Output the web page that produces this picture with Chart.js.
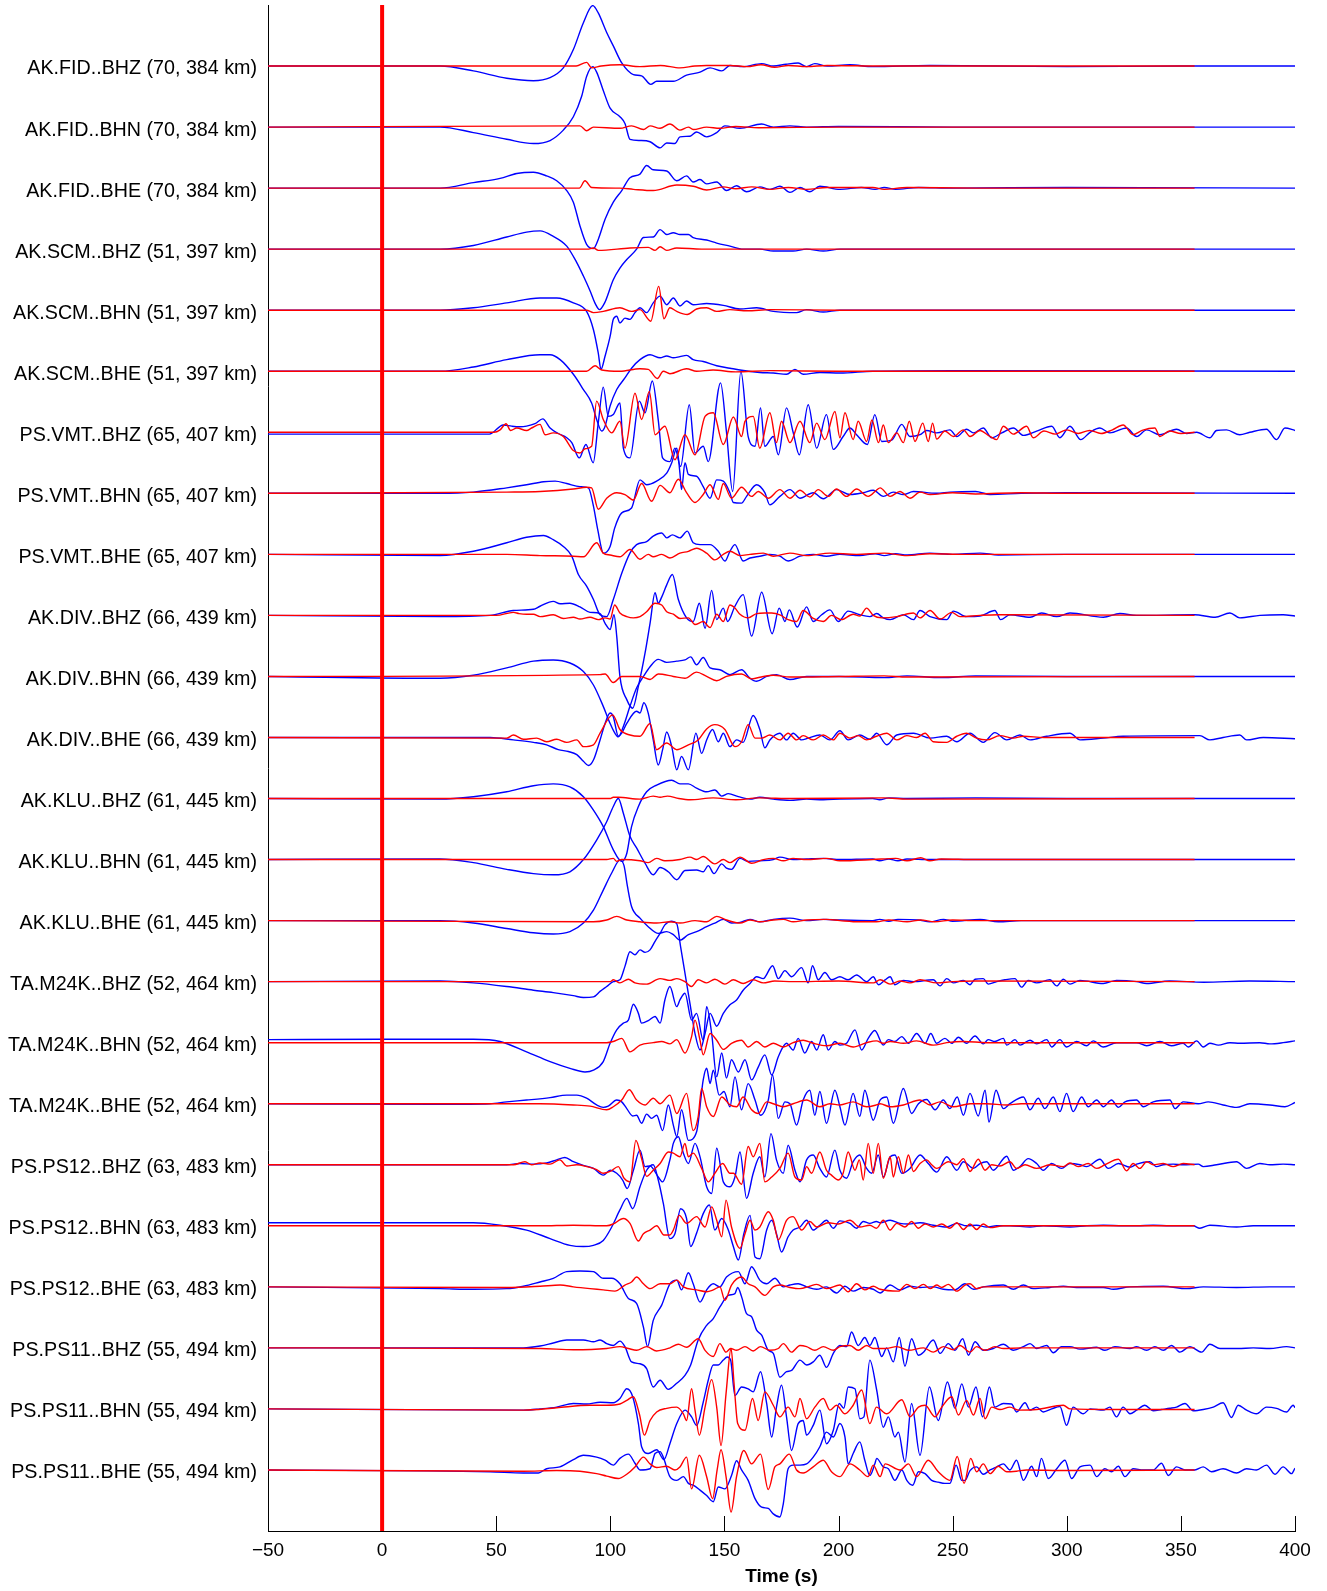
<!DOCTYPE html>
<html>
<head>
<meta charset="utf-8">
<title>Waveform fits</title>
<script src="https://cdn.jsdelivr.net/npm/chart.js@4.4.1/dist/chart.umd.min.js"></script>
<style>
    html, body { margin: 0; padding: 0; background: #fff; }
    #chart-canvas { display: block; }
</style>
</head>
<body>
<canvas id="chart-canvas" width="1327" height="1591"></canvas>
<script>
// Station / channel labels, top to bottom
const stationLabels = [
    'AK.FID..BHZ (70, 384 km)', 'AK.FID..BHN (70, 384 km)', 'AK.FID..BHE (70, 384 km)',
    'AK.SCM..BHZ (51, 397 km)', 'AK.SCM..BHN (51, 397 km)', 'AK.SCM..BHE (51, 397 km)',
    'PS.VMT..BHZ (65, 407 km)', 'PS.VMT..BHN (65, 407 km)', 'PS.VMT..BHE (65, 407 km)',
    'AK.DIV..BHZ (66, 439 km)', 'AK.DIV..BHN (66, 439 km)', 'AK.DIV..BHE (66, 439 km)',
    'AK.KLU..BHZ (61, 445 km)', 'AK.KLU..BHN (61, 445 km)', 'AK.KLU..BHE (61, 445 km)',
    'TA.M24K..BHZ (52, 464 km)', 'TA.M24K..BHN (52, 464 km)', 'TA.M24K..BHE (52, 464 km)',
    'PS.PS12..BHZ (63, 483 km)', 'PS.PS12..BHN (63, 483 km)', 'PS.PS12..BHE (63, 483 km)',
    'PS.PS11..BHZ (55, 494 km)', 'PS.PS11..BHN (55, 494 km)', 'PS.PS11..BHE (55, 494 km)'
];

const timeTicks = [-50, 0, 50, 100, 150, 200, 250, 300, 350, 400];
const originTime = 0;

// [time (s), normalized amplitude] -- Obs = recorded (blue), Syn = synthetic (red)
const fidBhzObs = [[-50,0],[25.4,0],[40,-0.08],[54.6,-0.2],[66.3,-0.24],[73.6,-0.19],[79.4,-0.03],[83.8,0.27],[88.2,0.71],[92.3,0.99],[94.7,0.87],[98.4,0.55],[101.3,0.33],[105,0.05],[110.1,-0.14],[113.7,-0.16],[117.7,-0.3],[120.3,-0.25],[127.6,-0.25],[133.4,-0.15],[139.3,-0.1],[143.7,-0.03],[148.8,-0.08],[152.4,0.01],[158,-0.01],[166.3,0.04],[171.4,0],[177,0.03],[182.3,0.05],[186,-0.01],[189.6,0.04],[195,0],[205,0.02],[215,-0.01],[240,0.01],[300,-0.01],[350,0],[400,0]];
const fidBhzSyn = [[-50,0],[85,0],[89.6,0.06],[91.8,-0.03],[96,0],[104.2,0.02],[113,-0.01],[122,0.01],[130.5,-0.03],[137,0],[142.2,0.01],[152.4,0.01],[160,-0.01],[166,0.02],[172,-0.02],[178,0.01],[186,-0.01],[195,0.01],[220,0],[356,0]];

const fidBhnObs = [[-50,0],[25.4,0],[40,-0.09],[54.6,-0.2],[66.3,-0.27],[73.6,-0.22],[79.4,-0.05],[83.8,0.17],[87.4,0.5],[89.6,0.83],[92.3,0.99],[94,0.9],[96.9,0.6],[99.9,0.31],[104.2,0.17],[106.4,0.06],[108.6,-0.2],[113,-0.22],[117.4,-0.24],[121.8,-0.34],[124.7,-0.26],[128.3,-0.27],[130.5,-0.16],[134.9,-0.15],[137.8,-0.08],[142.2,-0.16],[146.6,-0.09],[150.2,0.02],[156.8,-0.02],[166.3,0.05],[171.4,0],[178.7,0.02],[186,0],[200,0.01],[250,0],[400,0]];
const fidBhnSyn = [[-50,0],[86.7,0.02],[89.6,-0.06],[92.6,0],[104.2,-0.02],[109.3,0.02],[114.5,-0.04],[117.4,0.02],[121.8,-0.02],[126.1,0.05],[130.5,-0.05],[134.2,0],[136.3,-0.04],[142.2,0],[148,-0.02],[155,0.01],[165,-0.01],[200,0],[356,0]];

const fidBheObs = [[-50,0],[25.4,0],[40,0.09],[51.7,0.16],[59,0.24],[66.3,0.26],[72.1,0.2],[76.5,0.12],[80.9,-0.04],[83.8,-0.23],[86.7,-0.62],[89.6,-0.92],[92.6,-0.99],[94.7,-0.84],[97.7,-0.51],[101.3,-0.23],[105,-0.04],[108.6,0.17],[113,0.23],[115.9,0.37],[118.8,0.3],[124.7,0.28],[129.1,0.12],[133.4,0.2],[136.3,0.1],[139.3,0.14],[142.2,0.07],[146.6,0.1],[150.9,-0.04],[155.3,0.04],[159.7,-0.06],[165.5,0.02],[169.9,-0.02],[174.3,0.03],[178.7,-0.07],[183.1,0.01],[187.4,-0.06],[191.8,0.03],[200.6,-0.02],[210,0.01],[216,-0.02],[220,0.01],[225,-0.02],[235,0.01],[250,0],[300,0.01],[400,0]];
const fidBheSyn = [[-50,0],[86.4,0],[88.9,0.12],[91.8,0.01],[104.2,0],[110.1,-0.02],[118.8,-0.04],[129.1,0.05],[136.3,0.03],[142.2,-0.03],[149.5,0.02],[155,-0.01],[162,0.02],[170,-0.02],[178,0.01],[186,-0.02],[195,0.01],[215,0.01],[220,-0.02],[230,0.01],[260,0],[356,0]];

const scmBhzObs = [[-50,0],[25.4,0],[40,0.06],[54.6,0.2],[63.3,0.28],[69.2,0.3],[75,0.21],[80.9,0.05],[85.3,-0.22],[88.2,-0.44],[91.1,-0.68],[93.5,-0.9],[95.2,-0.99],[97.5,-0.88],[101.3,-0.5],[104.2,-0.31],[107.2,-0.17],[111.5,0],[114.5,0.19],[118.8,0.2],[121.8,0.32],[124.7,0.24],[127.6,0.27],[130.5,0.24],[134.2,0.24],[136.3,0.19],[142.2,0.15],[146.6,0.1],[152.4,0.05],[158.2,0],[165.5,0],[171.4,-0.03],[180.1,-0.03],[186,0],[193.3,-0.03],[200.6,0],[250,0],[400,0]];
const scmBhzSyn = [[-50,0],[90,0],[92.6,0.02],[94.7,-0.02],[108.6,0.02],[116.6,0.03],[119.6,-0.02],[121.8,0.04],[124.7,-0.02],[129.1,0.02],[140,0],[356,0]];

const scmBhnObs = [[-50,0],[25.4,0],[40,0.04],[54.6,0.12],[69.2,0.2],[76.5,0.2],[83.8,0.12],[89.6,-0.02],[92.6,-0.32],[94.7,-0.7],[95.9,-0.97],[97.7,-0.75],[99.9,-0.43],[101.3,-0.15],[102.8,-0.1],[104.2,-0.21],[106.4,-0.13],[108.6,-0.15],[110.8,-0.04],[113,0.04],[115.9,-0.04],[118.8,0.12],[121.8,0.23],[124.7,0.09],[127.6,0.2],[130.5,0.07],[133.4,0.15],[136.3,0.09],[142.2,0.11],[149.5,0.08],[156.8,0.02],[164.1,0.04],[171.4,-0.02],[181.6,-0.04],[186,0.01],[193.3,-0.03],[200.6,0],[250,0],[400,0]];
const scmBhnSyn = [[-50,0],[89.6,0],[92.6,-0.04],[96.9,-0.02],[104.2,0.04],[109.3,-0.02],[113,0.01],[117.7,-0.18],[121.2,0.39],[123.5,-0.14],[126.1,0.04],[129.1,-0.02],[133.7,-0.07],[137.8,0.02],[142.2,0.04],[146.6,-0.02],[152.4,0.01],[160,-0.01],[170,0.01],[200,0],[356,0]];

const scmBheObs = [[-50,0],[25.4,0],[40,0.07],[54.6,0.19],[69.2,0.27],[73.6,0.27],[78,0.19],[83.8,-0.05],[88.2,-0.3],[91.8,-0.52],[94,-0.79],[96.2,-0.98],[97.7,-0.9],[99.9,-0.57],[102.8,-0.3],[106.4,-0.11],[109.3,0.05],[113,0.19],[117.4,0.27],[121.8,0.22],[124.7,0.25],[127.6,0.22],[130.5,0.24],[133.4,0.26],[136.3,0.19],[140.7,0.16],[146.6,0.09],[152.4,0.05],[156.8,0.02],[165.5,-0.02],[171.4,-0.03],[177.2,-0.05],[180.9,0.03],[184.5,-0.05],[191.8,-0.02],[200.6,-0.03],[215,0],[250,0.01],[400,0]];
const scmBheSyn = [[-50,0],[89.6,0],[93.3,0.09],[96.2,0.02],[104.2,0],[113,0.04],[116.6,0.03],[120.6,-0.12],[123.2,0],[126.1,-0.04],[133.4,0.04],[137.8,0],[145,0.02],[155,-0.01],[170,0.01],[200,0],[356,0]];

const vmtBhzObs = [[-50,-0.03],[47,-0.03],[53.1,0.12],[56.8,0.1],[60.4,0.09],[63.3,0.1],[67,0.14],[70.4,0.22],[73.6,0.07],[77.2,-0.02],[80.9,-0.09],[83.1,-0.17],[86.4,-0.42],[89.3,-0.2],[92.5,-0.5],[94.7,0.15],[96.9,0.74],[99.1,0.26],[101.3,0.29],[104.2,0.48],[105.7,-0.26],[108.6,-0.42],[112.7,0.51],[115.2,0.32],[118.4,0.84],[121,0.2],[122.9,-0.42],[126.1,-0.48],[128.3,-0.26],[130.8,-0.56],[134.6,0.45],[137.1,-0.34],[140.7,-0.23],[142.9,-0.48],[148.3,0.81],[150.9,0],[153.6,-0.97],[157.2,1.0],[160.4,-0.07],[163.4,-0.23],[165.8,0.4],[167.7,-0.23],[171.4,-0.07],[173.6,-0.37],[177.2,0.4],[180.1,0],[182.8,-0.37],[186.7,0.45],[190.4,-0.26],[194.7,0.29],[197.7,-0.28],[202,-0.07],[205,0.07],[207.9,-0.04],[212.6,-0.2],[215.9,0.29],[218.9,-0.15],[223.3,-0.13],[227.7,0.13],[231.3,-0.07],[235.7,-0.04],[238.6,0.03],[243,-0.01],[248.8,0.04],[251.8,-0.07],[256.1,0.05],[259.1,-0.01],[263.4,0.07],[267.1,-0.09],[271.5,-0.01],[276.6,0.07],[281,-0.05],[286.8,0.02],[293.4,0.1],[297,-0.09],[301.4,0.1],[306.1,-0.12],[310.2,0],[314.5,0.07],[318.9,-0.01],[326.2,0.07],[330.6,-0.07],[335,0.04],[340.8,-0.04],[348.1,0.05],[352.5,-0.02],[356.9,0],[362.7,-0.09],[365.6,0.03],[370,0.04],[375.8,-0.04],[380.2,0],[387.5,0.05],[391.9,-0.12],[395.6,0.07],[400,0.03]];
const vmtBhzSyn = [[-50,0],[49,0],[51.7,0.04],[54.3,0.14],[56.3,0.03],[59,0.07],[63.3,0.03],[65.5,0.07],[69.2,0.13],[71.4,-0.04],[75,-0.01],[79.4,-0.07],[83.8,-0.3],[86.7,-0.34],[88.9,-0.27],[91.8,-0.23],[94,0.51],[96.9,0.21],[100.6,-0.01],[104.2,0.18],[106.4,-0.26],[110.8,0.64],[113.7,0.21],[117.1,0.67],[119.6,-0.04],[123.9,0.1],[128.3,-0.45],[132.7,-0.04],[137.1,-0.37],[141.5,0.26],[145.1,0.32],[149.5,-0.2],[153.9,0.25],[157.5,-0.07],[159,0.18],[162.6,0.26],[165.5,-0.26],[169.9,0.32],[172.8,-0.17],[175,0.18],[178.7,-0.17],[183.1,0.18],[187.4,-0.17],[190.4,0.15],[194,-0.12],[198.4,0.34],[200.6,-0.09],[202.8,0.32],[206.4,-0.12],[208.6,0.18],[212.3,-0.15],[214.6,0.2],[217.5,-0.17],[219.6,0.12],[221.8,-0.17],[225.5,-0.01],[228.4,-0.17],[231,0.18],[233.5,-0.15],[236.9,0.15],[239.3,-0.15],[241.2,0.15],[243,-0.11],[246.6,0.02],[250.3,-0.07],[254.7,0.04],[257.6,-0.07],[262,0.03],[265.6,-0.05],[269.3,-0.12],[272.2,0.1],[276.6,-0.03],[282.4,0.1],[285.3,-0.09],[290,0.02],[295,-0.03],[300,0.04],[305,-0.02],[310,0.03],[315,-0.02],[320,0.04],[324.7,0.12],[329.1,-0.04],[333,0.03],[338.6,0.07],[340.8,-0.07],[345,0.02],[350,-0.02],[356,0]];

const vmtBhnObs = [[-50,0],[25.4,0],[40,0.02],[54.6,0.09],[63.3,0.14],[70.7,0.19],[75.8,0.2],[80.9,0.16],[86.7,0.11],[90.4,0.09],[92.6,-0.21],[94.5,-0.6],[97,-0.98],[99.9,-0.87],[101.9,-0.57],[105,-0.32],[109.3,-0.24],[113,0.22],[115.9,0.14],[120.3,0.2],[124.7,0.33],[126.9,0.5],[129.1,0.74],[130.5,0.33],[131.2,0.06],[132.7,0.5],[134.2,0.31],[137.8,0.28],[140.7,0.11],[143.7,-0.08],[146.6,0.22],[149.5,0.2],[152.4,0.01],[153.9,-0.15],[157.5,-0.16],[159.7,-0.05],[164.1,0.14],[167.7,0.01],[169.9,-0.19],[174.3,-0.05],[178.7,0.06],[183.1,-0.08],[188.9,0.01],[193.3,-0.09],[199.1,0.06],[205,-0.02],[210.8,0.01],[215.2,0.05],[219.6,-0.05],[224,0.02],[228.4,-0.02],[232.8,0.03],[243,0],[248.8,0.02],[260,0.03],[266.4,-0.02],[280,0],[300,0.01],[400,0]];
const vmtBhnSyn = [[-50,0],[54.6,0.02],[69.2,0.03],[83.8,0.07],[89.6,0.1],[91.8,0.09],[94.7,-0.26],[98.4,-0.08],[102.8,0.01],[106.4,-0.02],[110.1,-0.11],[113.7,0.16],[118.1,-0.13],[121.8,0.13],[126.1,0.01],[129.8,0.23],[133.4,0.01],[137.1,-0.15],[140.7,-0.02],[143.7,0.14],[147.3,-0.1],[149.5,0.16],[153.1,-0.08],[157.5,0.1],[161.9,-0.05],[164.8,0.03],[169.2,-0.08],[174.3,0.06],[178.7,-0.08],[183.1,0.05],[187.4,-0.06],[191.1,0.06],[195.5,-0.05],[199.1,0.07],[203.5,-0.05],[207.9,0.07],[213,-0.05],[216.6,0.05],[218.2,0.09],[222.6,-0.05],[226.9,0.03],[231.3,-0.08],[235.7,0.02],[240.1,-0.02],[250,0.01],[260,-0.01],[280,0.01],[300,0],[356,0]];

const vmtBheObs = [[-50,0],[25.4,-0.02],[40,0.05],[54.6,0.19],[63.3,0.28],[70.7,0.31],[75,0.24],[79.4,0.13],[83.1,-0.03],[86,-0.33],[89.6,-0.52],[92.6,-0.74],[95.5,-0.99],[98.4,-1.02],[101.3,-0.74],[105,-0.31],[108.6,0.02],[111.5,0.16],[115.9,0.21],[118.8,0.3],[122.5,0.35],[124.7,0.27],[127.2,0.32],[130.5,0.27],[133.7,0.38],[136.3,0.19],[139.3,0.16],[143.7,0.16],[147.3,0.05],[150.2,-0.11],[152.4,0.05],[154.6,0.16],[158.2,-0.11],[161.2,-0.06],[165.5,-0.03],[169.9,0],[174.3,-0.03],[177.9,-0.11],[183.1,-0.03],[188.9,0],[194.7,-0.03],[200.6,0],[209.3,-0.02],[216,0.01],[220,-0.02],[225,0.01],[230,-0.01],[240,0.02],[250,0],[262,0.02],[270,-0.01],[300,0],[400,0]];
const vmtBheSyn = [[-50,0],[54.6,0],[69.2,-0.02],[83.8,-0.03],[88.2,-0.04],[94,0.19],[96.9,0.02],[99.9,-0.01],[104.2,-0.04],[108.6,0.08],[113,-0.08],[116.6,0],[118.8,-0.04],[122.5,0],[126.1,-0.06],[130.5,0.02],[134.2,0.05],[137.8,0.1],[142.2,0.02],[145.8,-0.09],[149.5,0],[152.4,0.05],[156.8,-0.02],[161.2,0],[167,0.02],[171.4,-0.03],[178.7,0.02],[186,-0.02],[196.2,0.02],[207.9,0],[220,0.02],[230,-0.02],[240,0.01],[255,0],[356,0]];

const divBhzObs = [[-50,0],[25.4,-0.02],[47.3,0],[57.5,0.08],[66.3,0.1],[69.2,0.15],[75,0.23],[78,0.19],[82.3,0.2],[86.7,0.14],[91.1,0.05],[95.5,0.03],[97.7,-0.13],[99.9,-0.23],[101.6,0.01],[102.8,-0.34],[104.2,-1.0],[107.2,-1.38],[109.8,-1.52],[112.3,-1.16],[115.2,-0.62],[117.4,-0.13],[119.6,0.37],[121,0.2],[122.5,0.3],[124.7,0.5],[127.2,0.67],[129.8,0.26],[133.4,-0.04],[136.3,-0.1],[139,0.2],[141.5,-0.21],[144.4,0.41],[146.6,-0.07],[149.5,0.12],[151.4,-0.1],[154.6,0.15],[158.2,0.34],[161.9,-0.34],[166.3,0.38],[170.9,-0.3],[174,0.12],[176.5,-0.1],[178.4,0.09],[181.9,-0.19],[186,0.14],[188.9,-0.1],[192.6,0.01],[196.2,0.09],[199.9,-0.1],[204.2,0.07],[209.3,0.01],[213.7,-0.02],[216.7,0.03],[219.6,-0.04],[222.6,-0.07],[228.4,0.01],[232.8,-0.07],[235.7,0.08],[240.1,-0.02],[247.4,-0.07],[250.3,0.07],[256.1,-0.02],[262,-0.01],[268.5,0.08],[271,-0.07],[275.1,0.01],[283.9,-0.03],[289,0.04],[295.6,-0.02],[301.4,0.04],[316,-0.03],[323.3,0.03],[330.6,0],[356,0.01],[365,-0.03],[371.5,0.04],[375.8,-0.04],[384.6,0],[394.8,0.01],[400,-0.01]];
const divBhzSyn = [[-50,0],[50,0],[57.5,0.05],[60,0.03],[63.3,0.02],[66.3,0.02],[69.2,-0.02],[75,0.01],[79.4,-0.05],[83.8,-0.03],[86.7,-0.06],[91.1,-0.03],[94.7,-0.07],[97.7,-0.04],[99.9,-0.06],[101.9,0.17],[104.2,0.04],[107.2,-0.02],[110.1,-0.04],[113,-0.02],[115.9,0.06],[119.6,0.2],[122.5,0.17],[124.7,0.06],[127.6,0.02],[130.5,-0.05],[134.2,-0.04],[137.1,-0.15],[140.7,-0.1],[143.7,-0.2],[146.6,0.02],[149.5,-0.1],[152.4,0.17],[154.6,0.12],[156.8,0.02],[160.4,-0.04],[164.1,0.03],[167.7,0.04],[170.7,0.04],[174.3,0.01],[177.9,-0.07],[181.6,-0.1],[184.5,0.08],[188.9,-0.05],[193.3,-0.1],[196.9,0],[201.3,-0.07],[206.4,0.02],[209.3,-0.01],[212.3,0.12],[215.2,0],[219,-0.04],[225.5,-0.02],[232.8,0.04],[235.7,-0.04],[240.1,0.08],[244.5,-0.06],[249.6,0.05],[253.2,-0.02],[262,0],[270,0.01],[356,0]];

const divBhnObs = [[-50,0],[25.4,-0.03],[40,0.02],[54.6,0.14],[66.3,0.25],[75,0.27],[82.3,0.22],[88.2,0.08],[92.6,-0.14],[96.9,-0.49],[99.9,-0.77],[102,-0.93],[103.5,-0.99],[105.7,-0.82],[108.6,-0.49],[111.5,-0.19],[114.5,0],[117.4,0.16],[121,0.28],[124.7,0.23],[129.1,0.25],[132.7,0.27],[135.2,0.32],[137.8,0.19],[140.7,0.31],[143.7,0.14],[148,0.11],[152.4,0.03],[157.5,0.11],[161.2,-0.03],[164.1,-0.08],[168.5,0],[172.8,0.03],[178.7,-0.05],[186,0],[200.6,0],[220,-0.02],[230,0.01],[245,-0.02],[260,0.01],[300,0],[400,0]];
const divBhnSyn = [[-50,0],[95.5,0.03],[97.7,0.04],[101.3,-0.1],[105,0],[113,0],[117.4,-0.05],[121,0.04],[127.6,0],[132.7,-0.03],[137.8,0.07],[142.2,0],[146.6,-0.07],[150.9,0],[157.5,0.04],[161.9,-0.04],[167,0],[171.4,0.02],[178.7,-0.01],[200,0],[220,0.01],[230,-0.01],[356,0]];

const divBheObs = [[-50,0],[25.4,0],[47.3,0],[57.5,-0.04],[66.3,-0.08],[72.1,-0.12],[77.2,-0.2],[81.6,-0.23],[85.3,-0.28],[88.2,-0.39],[90.4,-0.46],[92.6,-0.37],[95.5,-0.04],[97.7,0.23],[99.9,0.4],[101.3,0.34],[103.5,0.02],[105,0.07],[107.2,0.23],[111.5,0.43],[113,0.4],[114.7,0.57],[116.6,0.4],[118.8,-0.04],[121,-0.45],[122.9,-0.2],[124.7,0.09],[126.9,-0.15],[129.1,-0.53],[131.2,-0.31],[134.2,-0.53],[137.5,0.07],[140,-0.26],[142.2,-0.04],[144.8,0.13],[147.3,-0.07],[149.5,0.07],[152.4,-0.15],[155.3,-0.04],[158.2,-0.08],[162.6,0.36],[165.5,0.13],[167.7,-0.17],[169.9,-0.04],[174.3,0.07],[177.2,-0.04],[180.1,0.07],[183.8,-0.04],[186.7,-0.01],[191.8,0.04],[196.2,-0.04],[200.6,0.11],[204.2,-0.04],[209.3,0.04],[213.7,-0.03],[216.7,0.07],[221.1,-0.12],[225.5,0.04],[232.8,0.07],[240.1,-0.01],[247.4,0.02],[251.8,-0.07],[257.6,0.07],[263.4,-0.08],[268.5,0.08],[273.7,-0.04],[279.5,0.04],[283.9,-0.04],[291.2,0.02],[301.4,0.07],[305.8,-0.04],[316,-0.01],[324.7,0.02],[358.3,0.03],[362.7,-0.04],[368.5,0],[375.8,0.04],[378.8,-0.04],[386.1,0],[400,-0.02]];
const divBheSyn = [[-50,0],[54.6,-0.01],[57.5,0.04],[61.9,-0.03],[67.7,-0.01],[72.1,-0.07],[76.5,-0.03],[80.9,-0.08],[85.3,-0.04],[88.2,-0.15],[92.6,-0.12],[95.5,0.07],[101,0.37],[104.2,0.13],[108.6,0.04],[113,0.02],[117.4,0.23],[120.3,-0.2],[124.7,-0.09],[129.1,-0.2],[134.2,-0.12],[138.5,-0.04],[142.2,0.14],[145.8,0.21],[150.2,0.13],[154.6,-0.15],[157.5,-0.07],[160.4,0.21],[163.4,-0.01],[166.3,-0.01],[169.9,0.04],[174.3,-0.04],[177.9,0.07],[181.6,-0.04],[184.5,0.03],[188.9,-0.04],[193.3,0.04],[197.7,-0.04],[200.6,0.07],[205,-0.01],[208.6,0.03],[212.3,-0.04],[216.6,0.02],[221.1,0.07],[225.5,-0.04],[229.9,0.03],[234.2,0],[237.9,0.07],[241.5,-0.07],[247.4,-0.08],[251.8,0.02],[256.1,0.07],[260.5,-0.01],[264.9,-0.04],[270.7,0.03],[276.6,-0.01],[281,0.02],[290,0],[356,0]];

const kluBhzObs = [[-50,0],[25.4,-0.01],[40,0.03],[54.6,0.11],[66.3,0.21],[75,0.24],[82.3,0.19],[88.2,0.03],[92.6,-0.19],[96.9,-0.46],[101.3,-0.84],[105,-1.03],[107.2,-0.9],[109.3,-0.46],[112.3,-0.13],[115.9,0.11],[120.3,0.22],[126.9,0.3],[130.5,0.24],[134.2,0.24],[137.8,0.17],[142.2,0.11],[145.8,0.14],[148.8,0.04],[151.7,0.08],[156.1,0.03],[161.2,-0.01],[165.5,0.02],[171.4,-0.01],[178.7,-0.03],[186,-0.01],[193.3,-0.02],[200.6,-0.01],[215,0],[218,-0.02],[222,0.01],[230,0],[260,0.01],[300,0],[400,0]];
const kluBhzSyn = [[-50,0],[100,0],[101.3,0.02],[103.5,0.02],[113,-0.01],[118.8,0.04],[121.8,0.02],[125,0.04],[130,0],[135,-0.02],[145,0.01],[155,-0.02],[165,0.01],[180,0],[220,0.01],[230,-0.01],[356,0]];

const kluBhnObs = [[-50,0],[25.4,0.01],[40,-0.05],[54.6,-0.16],[66.3,-0.23],[75,-0.25],[82.3,-0.2],[88.2,0],[94,0.32],[98.4,0.62],[101.3,0.87],[103.5,1.0],[105.7,0.76],[108.6,0.38],[111.5,0.19],[115.2,-0.06],[118.8,-0.25],[121.8,-0.13],[125.4,-0.2],[129.1,-0.33],[132.7,-0.18],[137.8,-0.17],[140.7,-0.2],[142.9,-0.1],[145.4,-0.23],[148.8,-0.07],[150.9,-0.14],[153.1,-0.16],[156.8,0.02],[160.4,-0.03],[165.5,-0.02],[171.4,0],[174.3,0.04],[180.1,0],[186,0.01],[193.3,0.02],[200.6,0],[215,0.01],[218,-0.02],[222,0.01],[226,-0.02],[230,0.01],[240,0],[260,0],[400,0]];
const kluBhnSyn = [[-50,0],[98.4,0],[101.3,0.02],[102.8,-0.03],[105,0],[113,-0.02],[116.6,-0.05],[120.3,0.02],[123.9,-0.02],[130.5,0],[134.9,0.04],[137.8,0],[140.7,0.05],[145.8,-0.07],[149.5,0],[152.4,-0.05],[156.8,0.04],[161.9,-0.06],[167,0],[171.4,0.02],[175.8,-0.02],[180.1,0.02],[186,0],[194.7,0.02],[200.6,-0.02],[215,0],[225,0.02],[230,-0.02],[236,0.03],[240,-0.02],[245,0.01],[260,0],[356,0]];

const kluBheObs = [[-50,0],[25.4,0],[40,-0.04],[54.6,-0.13],[66.3,-0.2],[75,-0.22],[82.3,-0.18],[88.2,-0.04],[92.6,0.17],[96.9,0.5],[100.6,0.78],[104.2,0.99],[106,0.9],[107.5,0.56],[109.3,0.23],[113,0.04],[116.6,-0.1],[121,-0.21],[124.7,-0.18],[127.6,-0.23],[130.5,-0.32],[134.2,-0.23],[137.8,-0.18],[142.2,-0.1],[145.8,-0.04],[149.5,0.02],[153.1,-0.04],[156.8,-0.03],[161.2,0.02],[165.5,-0.02],[171.4,0.02],[178.7,0.04],[186,0],[193.3,0.02],[200.6,0.01],[215,0],[218,0.02],[222,-0.01],[226,0.02],[235,0.01],[240,-0.02],[246,0.02],[250,-0.01],[262,0.02],[270,-0.02],[280,0],[300,0],[400,0]];
const kluBheSyn = [[-50,0],[92.6,-0.02],[98.4,0.01],[102.8,0.07],[107.2,0.01],[113,-0.02],[120.3,-0.04],[126.1,-0.02],[130.5,-0.04],[137.1,0],[142.2,-0.02],[146.6,0.07],[150.9,0.01],[156.8,-0.04],[161.2,0.01],[165.5,-0.02],[171.4,0.01],[175.8,0.02],[180.1,-0.02],[186,0.01],[194.7,0.02],[200.6,0],[209.3,-0.02],[216.6,-0.02],[222,0.01],[230,-0.02],[236,0.01],[242,-0.02],[250,0.01],[260,0],[356,0]];

const m24kBhzObs = [[-50,0],[25.4,0.01],[40,-0.02],[54.6,-0.08],[66.3,-0.14],[75,-0.18],[83.8,-0.23],[88.2,-0.26],[92.6,-0.25],[95.5,-0.16],[98.4,-0.08],[101.3,0],[104.2,0.03],[106.4,0.25],[108.6,0.49],[110.8,0.44],[113,0.52],[115.2,0.48],[117.4,0.52],[119.6,0.66],[121.8,0.79],[123.9,0.93],[126.9,0.99],[129.1,0.95],[130.8,0.57],[132.7,0.14],[134.9,-0.36],[137.1,-0.85],[139.3,-1.12],[141.5,-0.85],[143.7,-0.52],[146.6,-0.73],[149.5,-0.52],[152.4,-0.38],[155.3,-0.3],[158.2,-0.14],[161.2,-0.03],[164.1,0.08],[167,0.05],[171.1,0.26],[173.6,0.05],[176.5,0.18],[179.4,0.08],[183.8,0.23],[186.7,-0.02],[188.6,0.26],[191.1,0.03],[194,0.15],[196.9,0.03],[200.6,0.08],[204.2,0.03],[207.9,0.11],[212.3,0],[215.2,0.08],[217.5,-0.05],[220.4,0.03],[222.6,0.08],[224.7,-0.05],[228.4,0.02],[232.8,0],[241.5,0.03],[244.5,-0.07],[247.4,0.05],[250.3,-0.02],[254.7,0.02],[257.6,-0.05],[259.8,0.04],[263.4,0.05],[265.6,-0.04],[269.3,0],[272.9,0.03],[277.3,0.05],[280.2,-0.09],[283.1,0.02],[286.8,-0.02],[292.6,0.03],[295.6,-0.07],[298.5,0.04],[301.4,-0.04],[305.8,0.02],[316,-0.03],[321.8,0.02],[330.6,0],[335,-0.03],[345,0.01],[360,-0.01],[380,0.01],[400,0]];
const m24kBhzSyn = [[-50,0],[100,0],[101.3,0.03],[104.2,-0.02],[107.9,0.04],[110.8,-0.02],[115.9,-0.04],[121.8,0.05],[126.1,0.02],[129.1,0.05],[132.7,0],[135.6,-0.08],[138.5,0.03],[142.2,-0.02],[145.8,0.04],[150.2,-0.04],[153.9,0.03],[158.2,-0.03],[162.6,0.03],[167,-0.02],[172,0.01],[180,0],[200,0.01],[215.3,-0.02],[218.2,0.03],[222.6,-0.04],[226.9,0.01],[231.3,-0.02],[235.7,0.03],[243,-0.02],[250,0],[260,0.01],[356,0]];

const m24kBhnObs = [[-50,0.05],[0,0.055],[25.4,0.055],[40,0.055],[51.7,0.02],[63.3,-0.15],[73.6,-0.31],[82.3,-0.42],[88.9,-0.48],[92.6,-0.45],[96.9,-0.31],[99.9,-0.01],[102.8,0.21],[105.7,0.32],[107.9,0.37],[110.1,0.63],[112.3,0.48],[113.7,0.32],[116.6,0.36],[119.6,0.43],[121.8,0.32],[123.9,0.7],[126.1,0.92],[129.1,0.59],[130.5,0.7],[132.7,0.81],[135.6,0.37],[137.8,0.48],[140.7,0.04],[142.2,0.59],[144.4,0.15],[146.6,-0.56],[148.8,-0.17],[150.9,-0.58],[153.1,-0.28],[156.1,-0.48],[159,-0.28],[161.9,-0.61],[164.8,-0.4],[167.7,-0.2],[170.7,-0.53],[173.6,-0.23],[177.2,-0.01],[180.1,-0.12],[182.3,0.07],[185.2,-0.17],[188.2,0.02],[190.4,-0.12],[193.3,0.13],[195.5,-0.12],[198.4,0.02],[200.6,-0.04],[203.5,-0.01],[207.2,0.21],[210.1,-0.12],[213,0.07],[215.9,0.2],[219.6,-0.04],[221.8,0.05],[224.7,0.02],[227.7,0.1],[230.6,-0.01],[234.2,0.15],[237.9,-0.01],[240.4,0.15],[243,-0.01],[246.6,0.07],[249.6,-0.01],[252.5,0.09],[256.1,-0.01],[259.8,0.11],[263.4,-0.02],[265.6,0.05],[268.5,0.02],[272.2,0.07],[273.7,-0.04],[277.3,0.05],[279.5,-0.04],[283.9,0.04],[286.8,-0.02],[291.2,0.05],[293.4,-0.07],[297,0.05],[299.9,-0.07],[304.3,0.02],[308.7,-0.05],[311.6,0.03],[316,-0.07],[321.8,0],[330.6,0],[335,-0.05],[340.8,0.02],[345.9,-0.05],[351,-0.01],[353.2,-0.07],[356.9,0.03],[359.8,-0.07],[362.7,-0.01],[366.4,-0.04],[371.5,0],[375.8,-0.01],[384.6,0],[389,-0.02],[394.8,0],[400,0.03]];
const m24kBhnSyn = [[-50,0],[80,0],[98.4,0],[101.3,0.02],[105,0.07],[108.6,-0.15],[113,-0.04],[118.8,0],[122.5,0.02],[126.1,-0.02],[129.1,0.05],[132.7,-0.17],[135.6,0.1],[137.1,0.37],[139.3,0.04],[140.7,-0.2],[143.7,0.15],[146.6,0.04],[149.5,-0.11],[153.1,-0.01],[157.5,0.04],[160.4,-0.07],[164.1,0.02],[167.7,-0.07],[171.4,-0.01],[175.8,-0.07],[180.1,0],[184.5,0.04],[188.9,-0.01],[194.7,-0.05],[200.6,-0.01],[206.4,-0.07],[212.3,0],[216.6,0.03],[219.6,-0.01],[222.6,0.02],[228.4,-0.01],[234.2,0.03],[241.5,-0.04],[247.4,0],[254.7,0.02],[265,0],[356,0]];

const m24kBheObs = [[-50,0],[25.4,-0.01],[47.3,0],[54.6,0.03],[63.3,0.06],[73.6,0.1],[80.9,0.14],[85.3,0.14],[89.6,0.09],[94,-0.02],[96.9,-0.06],[99.1,-0.04],[102.8,0.06],[105,0.03],[107.2,-0.08],[109.8,-0.2],[111.5,-0.19],[113.7,-0.32],[115.9,-0.17],[118.1,-0.24],[120.3,-0.19],[122.9,-0.44],[125.4,-0.02],[127.6,-0.35],[129.1,-0.54],[131.2,-0.1],[134.2,-0.6],[137.8,-0.46],[140.7,0.39],[142.2,0.58],[143.7,0.33],[145.1,0.55],[147.7,0.14],[149.8,0.2],[152.4,-0.05],[154.6,0.44],[157.5,-0.1],[160.4,0.33],[163.4,0.06],[165.8,-0.19],[169.2,0.06],[171.1,0.47],[173.6,-0.24],[176.5,0.03],[178.7,0],[181.6,-0.35],[184.5,0.06],[187.4,0.22],[189.6,-0.19],[191.8,0.2],[194.7,-0.32],[198.4,0.22],[200.6,-0.05],[202.8,-0.35],[206.4,0.17],[209.3,-0.21],[211.5,0.22],[215.2,-0.27],[218.2,0.06],[221.1,0.11],[224,-0.32],[228.4,0.25],[232,-0.16],[235,0],[238.6,0.07],[242.3,-0.1],[245.9,0.06],[248.8,-0.08],[252,0.11],[254.7,-0.19],[257.6,0.17],[261.2,-0.2],[264.2,0.22],[265.9,-0.3],[269,0.22],[272.2,-0.08],[275.1,0],[281,0.11],[283.9,-0.1],[287.5,0.09],[290.4,-0.08],[294.1,0.11],[297,-0.13],[299.9,0.17],[302.8,-0.13],[306.5,0.11],[309.4,-0.05],[313.1,0.06],[316,-0.05],[319.6,0.06],[322.6,-0.06],[325.5,0.03],[330.6,0.06],[333.5,-0.05],[337.9,0.03],[345.2,0.06],[347.4,-0.08],[351,0.03],[357.6,0],[362,0.03],[368.5,-0.02],[374.4,-0.06],[380.2,0],[389,-0.02],[395.6,-0.05],[400,0.02]];
const m24kBheSyn = [[-50,0],[69.2,0],[83.8,-0.02],[91.1,-0.04],[98.4,-0.1],[101.3,-0.05],[105,0.06],[108.3,0.23],[111.5,0.06],[115.2,-0.02],[118.8,0.09],[121.8,0],[126.1,0.14],[129.1,-0.16],[133.4,0.17],[136.3,-0.44],[138.5,-0.21],[140,0.25],[142.2,-0.05],[145.1,-0.21],[148.8,0.11],[152.4,-0.02],[155.3,-0.05],[158.2,0.11],[161.9,-0.1],[164.8,-0.16],[168.5,0.03],[171.4,0],[175.8,-0.05],[180.1,0],[186,0.06],[191.8,-0.05],[196.2,0],[200.6,-0.02],[206.4,0.03],[212.3,-0.05],[216.6,-0.02],[218.2,0],[222.6,-0.05],[228.4,-0.02],[235.7,0.06],[240.1,-0.02],[244.5,0.03],[250.3,-0.05],[257.6,0],[265,0],[273.7,-0.02],[280,0],[356,0]];

const ps12BhzObs = [[-50,0],[54.6,0],[60.4,0.02],[66.3,0.01],[72.1,0.03],[76.5,0.08],[80.1,0.12],[83.8,0.05],[88.2,-0.01],[92.6,-0.06],[96.9,-0.17],[99.9,-0.09],[102.8,-0.14],[105.4,-0.25],[107.4,-0.39],[110.1,-0.09],[113,0.24],[115.2,-0.03],[117.4,-0.02],[121,-0.2],[122.9,-0.28],[126.1,0.08],[127.6,0.35],[129.8,0.46],[132,0.19],[134.2,0.02],[137.1,0.35],[139.3,0.13],[142.2,-0.36],[144.4,-0.47],[146.6,0.27],[149.5,-0.28],[152.4,-0.36],[154.6,-0.2],[156.8,0.21],[159.7,-0.55],[162.6,-0.14],[165.5,0.13],[167.7,-0.2],[170.4,0.51],[172.8,0.08],[175.8,-0.14],[177.9,0.32],[180.9,-0.09],[183.1,-0.28],[186,0.08],[188.9,0.16],[191.8,-0.06],[194.7,-0.2],[198.4,0.24],[200.6,-0.09],[203.5,-0.22],[206.4,0.05],[209.3,0.16],[212.3,-0.06],[214.5,-0.14],[217.4,0.16],[219.6,-0.2],[222.6,0.13],[224.7,0.16],[227.7,-0.14],[231.3,-0.06],[235.7,0.16],[239.3,0.02],[243,-0.12],[247.4,0.13],[251.8,-0.09],[254.7,0.05],[259.1,-0.06],[262,0.02],[264.9,0.05],[267.8,-0.09],[273.7,0.14],[276.6,-0.09],[279.5,-0.03],[283.1,0.1],[286.8,0.02],[289.7,-0.09],[293.4,0.02],[297.7,-0.06],[301.4,0.02],[305.8,0],[308.7,-0.03],[314.5,0.09],[318.2,-0.06],[322.6,0.02],[327.7,-0.04],[330.6,0.01],[336.4,0.05],[339.3,-0.03],[342.3,0],[346.6,0.01],[351,0],[357.6,0.01],[359.8,-0.03],[365.6,0],[374.4,0.05],[378.8,-0.06],[384.6,0.02],[389,0],[394.8,0.01],[400,0]];
const ps12BhzSyn = [[-50,0],[57.5,0],[62.6,0.05],[65.5,0],[69.2,0.03],[73.6,0.01],[77.9,0.08],[80.9,-0.02],[85.3,0],[89.6,-0.03],[94,-0.08],[96.9,-0.14],[99.9,-0.11],[103.5,-0.03],[106,-0.22],[108.6,-0.28],[111.2,0.4],[113.7,0.1],[115.9,-0.19],[118.8,-0.09],[121.8,0.02],[125.4,0.21],[127.6,0.19],[130.5,0.13],[132.7,0.35],[134.2,0.13],[136.3,0.19],[140,-0.06],[142.9,-0.28],[145.8,-0.14],[149.2,0.02],[152.4,-0.14],[153.9,-0.14],[157.5,-0.32],[160.4,0.3],[162.6,0.13],[165.5,0.35],[167.7,-0.28],[170.7,-0.2],[174.3,-0.06],[177.9,0.19],[180.9,-0.2],[183.8,-0.25],[186,-0.03],[188.2,-0.14],[191.8,0.21],[194.7,-0.09],[196.9,-0.17],[199.9,-0.25],[202,-0.14],[204.2,0.21],[207.2,-0.09],[209.1,0.08],[210.8,-0.25],[213,0.35],[215.2,-0.14],[217.4,0.35],[219.6,-0.22],[222.6,0.13],[224,-0.2],[226.2,0.13],[228.4,-0.14],[230.6,0.16],[232.8,-0.11],[235.7,0.02],[238.6,0.08],[240.8,0],[243,-0.06],[248.1,0.05],[251.8,0],[254.7,0.1],[257.6,-0.11],[261.2,0.09],[264.2,-0.09],[267.1,0],[270.7,-0.02],[275.1,0.05],[278,-0.06],[281.7,0],[286.8,-0.06],[292.6,0],[298.5,-0.03],[301.4,0.03],[305,-0.03],[309.4,0.02],[313.1,-0.06],[316.7,0],[322.6,0.09],[326.2,-0.1],[329.1,0.02],[332,-0.06],[335,0.05],[337.9,0],[342.3,0.02],[346.6,-0.03],[351,0.02],[356,0]];

const ps12BhnObs = [[-50,0.05],[25.4,0.05],[40,0.05],[51.7,0.01],[63.3,-0.07],[73.6,-0.21],[82.3,-0.32],[88.2,-0.34],[92.6,-0.32],[96.9,-0.24],[100.6,-0.02],[104.2,0.26],[107.2,0.45],[109.8,0.28],[113,0.64],[115.9,0.91],[118.8,1.0],[121,0.75],[123.2,0.37],[126.1,-0.21],[128.3,-0.13],[130.8,0.28],[133.4,0.12],[135.2,-0.34],[137.8,-0.12],[140.7,0.2],[143.4,0.34],[145.8,-0.07],[148.8,0.12],[151.7,-0.07],[153.9,-0.34],[156.1,-0.56],[158.5,-0.13],[161.2,0.17],[163.4,-0.51],[165.5,-0.54],[168.5,-0.07],[170.7,0.09],[172.8,-0.13],[175,-0.43],[177.9,-0.18],[180.1,-0.07],[183.1,-0.02],[186,0.09],[188.9,-0.07],[191.8,0.01],[194.7,0.09],[197.7,-0.04],[200.6,0.08],[205,0.04],[207.9,-0.04],[210.8,0.07],[213.7,0.04],[216.6,0.07],[218.2,0.05],[222.6,0.09],[226.9,0.04],[230.6,0.03],[235.7,0.05],[241.5,0.01],[247.4,-0.02],[251.8,0.04],[256.1,0],[260.5,0.01],[264.9,-0.02],[269.3,0],[275.1,0],[283.9,-0.02],[289.7,0],[301.4,-0.02],[308.7,0],[316,0.01],[324.7,0],[330.6,0],[337.9,0.01],[345.2,0],[355.4,0],[358.3,-0.04],[362.7,0.01],[374.4,-0.02],[381.7,0],[389,0],[400,0]];
const ps12BhnSyn = [[-50,0],[69.2,0],[83.8,0.01],[98.4,0],[101.3,0.03],[105.7,0.12],[108.6,0.04],[112.3,-0.25],[114.5,-0.13],[117.4,-0.07],[120.3,0],[123.5,-0.15],[126.1,-0.15],[127.6,-0.07],[130.2,0.17],[133.4,0.04],[137.8,0.15],[141.5,-0.02],[144.4,0.31],[146.6,0.09],[148.8,-0.18],[150.7,0.42],[153.1,-0.02],[156.8,-0.37],[159,-0.13],[161.2,0.09],[163.4,-0.07],[165.5,-0.02],[169.2,0.23],[171.4,0.09],[173.6,-0.23],[177.2,0.09],[180.1,0.15],[183.8,-0.07],[187.4,0.07],[190.4,-0.02],[195.5,0.05],[199.9,0.03],[205,0.09],[209.3,-0.02],[213.7,0.01],[216.6,-0.04],[219.6,0.09],[222.6,-0.07],[225.5,0.04],[229.1,-0.02],[232,0.07],[235,-0.04],[237.9,0.03],[241.5,-0.02],[245.2,0.03],[248.8,-0.04],[251.8,0.05],[254.7,-0.06],[257.6,0.03],[260.5,-0.06],[263.4,0.03],[266.4,-0.03],[272.2,0],[300,0],[356,0]];

const ps12BheObs = [[-50,0],[25.4,-0.03],[40,-0.04],[54.6,-0.03],[61.9,0.01],[69.2,0.08],[75,0.14],[80.9,0.25],[86.7,0.26],[92.6,0.25],[96.9,0.14],[100.6,0.14],[104.2,0.05],[107.9,-0.19],[111.5,-0.27],[114.5,-0.66],[116.3,-0.98],[118.8,-0.55],[122.5,-0.3],[126.1,0.05],[129.1,0.11],[131.2,-0.05],[134.2,0.23],[136.3,0.05],[139.3,-0.25],[142.2,-0.05],[145.1,0.05],[148,0],[150.9,0.16],[156.1,0.25],[159,0.05],[161.9,0.33],[165.5,0.11],[168.5,0.05],[172.1,0.14],[175.8,0],[178.7,0.03],[182.3,0.05],[186,0],[190.4,-0.04],[194.7,0],[199.1,-0.1],[202.8,0.01],[206.4,-0.07],[210.8,-0.01],[215.2,-0.04],[218.2,-0.1],[222.6,0.03],[226.9,-0.05],[231.3,0.01],[235.7,-0.01],[241.5,0],[245.9,-0.04],[251,-0.05],[255.4,0.05],[259.1,-0.04],[263.4,0],[272.2,0.03],[276.6,-0.04],[281,0.03],[285.3,-0.03],[292.6,-0.01],[298.5,0.01],[304.3,-0.01],[316,-0.01],[320.4,-0.04],[327.7,0],[342.3,0.01],[352.5,-0.03],[359.8,0],[374.4,-0.01],[389,0],[400,0]];
const ps12BheSyn = [[-50,0],[54.6,-0.01],[69.2,0.01],[78,0.03],[83.8,0],[91.1,-0.03],[96.9,-0.05],[102,-0.07],[106.4,0.03],[109.3,0.08],[111.5,0.16],[114.5,0.05],[117.4,-0.03],[121.8,0.05],[126.1,0.05],[129.1,0.11],[132,0],[137.8,-0.05],[142.2,-0.08],[145.1,-0.05],[148,0],[150.2,-0.22],[153.1,0.03],[157.5,0.16],[160.4,0.05],[163.4,0],[167.7,-0.14],[171.4,0],[174.3,0.03],[178.7,-0.01],[183.1,-0.03],[187.4,0.01],[190.4,0.04],[194.7,-0.03],[200.6,0.03],[204.2,-0.08],[207.9,0.05],[211.5,-0.05],[215.2,0.01],[218.2,-0.04],[226.2,-0.07],[229.9,0.04],[233.5,-0.03],[237.2,0.04],[240.1,-0.03],[243,0.03],[245.2,-0.01],[248.1,0.04],[251.8,-0.07],[255.4,0.03],[257.6,0.05],[260.5,-0.03],[263.4,0],[270,0],[356,0]];

const ps11BhzObs = [[-50,0],[61.9,0],[69.2,0.03],[75,0.08],[80.9,0.13],[88.2,0.13],[92.6,0.1],[95.5,0.13],[98.4,0.07],[101.3,0.04],[104.2,0.11],[106.4,0.02],[109.3,-0.23],[113,-0.26],[115.9,-0.34],[118.8,-0.64],[121.8,-0.53],[125.4,-0.68],[129.1,-0.58],[132.7,-0.45],[135.2,-0.28],[138.5,0.13],[142.2,0.37],[145.1,0.48],[148,0.67],[151.7,0.86],[154.6,0.89],[155.8,0.99],[157.5,0.84],[159.7,0.56],[161.9,0.51],[164.1,0.29],[166.3,0.21],[169.2,-0.04],[171.4,-0.09],[174.3,-0.48],[177.2,-0.39],[179.4,-0.37],[183.1,-0.2],[186,-0.28],[188.9,-0.23],[191.8,-0.12],[194.7,-0.32],[197.7,-0.09],[200.6,0.04],[203.5,0.02],[205.7,0.26],[208.6,0.04],[211.5,0.17],[213.7,0.04],[215.9,0.17],[218.9,-0.14],[221.1,0],[224,-0.23],[226.6,0.17],[229.1,-0.3],[232,0.15],[235,-0.12],[237.2,-0.07],[241.5,0.13],[244.5,-0.09],[248.1,0.07],[251,-0.04],[254.4,0.15],[256.9,-0.12],[259.8,0.1],[263.4,-0.04],[267.8,-0.01],[272.2,0.06],[276.6,-0.04],[281,0.02],[283.9,0.07],[286.8,-0.01],[291.2,0.04],[294.1,-0.08],[297.7,0.02],[301.4,0.02],[305.8,-0.02],[313.1,0.01],[316.7,-0.04],[321.1,0.02],[327.7,-0.01],[330.6,0.02],[335,-0.04],[338.6,0.02],[342.3,-0.04],[345.9,0.04],[349.6,-0.07],[353.9,0.02],[359.1,-0.07],[362.7,0.06],[367.1,-0.01],[375,-0.01],[381.7,0],[389,-0.01],[396.3,0.02],[400,0]];
const ps11BhzSyn = [[-50,0],[69.2,-0.01],[83.8,-0.03],[98.4,-0.01],[104.2,0.02],[107.9,-0.01],[111.5,-0.04],[115.9,0.02],[120.3,-0.05],[126.1,0],[129.8,0.06],[133.4,0.01],[138.5,0.15],[141.5,-0.04],[145.1,-0.14],[148,0.07],[150.7,-0.07],[152.7,-0.01],[155.3,-0.04],[159,0.02],[162.6,-0.05],[165.8,0.02],[169.9,-0.04],[173.6,-0.01],[175.8,0.07],[179.4,-0.07],[183.1,0.04],[186,0.02],[189.6,-0.04],[193.3,0.02],[197.7,-0.04],[200.6,0.02],[205,0.04],[208.6,-0.04],[212.3,0.04],[215.2,-0.01],[220.4,-0.01],[225.5,0.02],[230.6,-0.04],[237.2,0],[241.5,-0.07],[245.9,0.02],[250.3,-0.03],[253.2,0.04],[257.6,-0.07],[260.5,0.02],[264.2,-0.04],[268.5,0.02],[272.2,-0.01],[280,0],[356,0]];

const ps11BhnObs = [[-50,0],[61.9,-0.02],[69.2,0],[76.5,0.03],[83.8,0.09],[89.6,0.08],[95.5,0.11],[101.3,0.1],[104.2,0.17],[107.2,0.33],[109.8,0.2],[112.3,-0.24],[113.7,-0.62],[116.6,-0.73],[120.3,-0.67],[123.5,-0.83],[126.1,-0.57],[129.1,-0.24],[132.7,-0.02],[135.6,-0.13],[137.8,-0.27],[140.7,0.11],[142.9,0.47],[145.1,0.72],[147.3,0.72],[149.5,0.8],[151.2,0.85],[152.7,0.8],[154.6,0.22],[157.5,0.36],[160.4,0.33],[162.6,0.28],[165.8,0.61],[168.5,0.09],[170.7,-0.46],[172.8,0.03],[175,0.39],[177.2,-0.13],[179.4,-0.68],[182.3,-0.24],[184.5,-0.19],[186,-0.43],[188.9,-0.27],[191.8,-0.02],[194.7,-0.57],[197.7,-0.35],[200.3,0.09],[202.3,0.01],[204.2,0.36],[207.2,0.33],[209.3,-0.16],[211.1,-0.13],[213.7,0.8],[216.7,0.31],[219.6,-0.3],[221.8,-0.13],[224.7,-0.46],[226.2,-0.38],[229.1,-0.87],[232,0.09],[235.7,-0.76],[239.8,0.36],[243.7,-0.19],[247.7,0.44],[251,0.01],[254,0.41],[256.9,0.03],[260.2,0.36],[263.1,-0.13],[266.1,0.36],[268.5,0.03],[272.2,0.09],[275.8,0.08],[278,-0.05],[281.7,0.1],[283.9,-0.02],[286.8,0.03],[289.7,-0.05],[293.4,0],[297,0.04],[299.9,-0.27],[302.8,0.03],[307.2,-0.08],[310.2,0],[316,-0.02],[318.9,0.03],[321.8,-0.13],[324.7,0.03],[327.7,-0.08],[330.6,-0.02],[334.2,0.06],[337.9,-0.03],[341.5,-0.01],[345.2,0.01],[348.1,0.03],[351.8,0.09],[355.4,-0.03],[359.8,-0.01],[364.2,0.03],[368.5,0.1],[372.2,-0.14],[375.1,0.06],[378.8,-0.02],[383.1,-0.08],[387.5,0.03],[391.9,0.01],[396.3,-0.05],[399.2,0.06],[400,0.02]];
const ps11BhnSyn = [[-50,0],[61.9,-0.02],[76.5,0.02],[91.1,0.06],[98.4,0.06],[104.2,0.08],[107.2,0.14],[110.1,0.2],[112.7,-0.08],[114.9,-0.43],[117.4,-0.19],[120.3,-0.05],[124.7,0.01],[129.1,0.03],[132,-0.08],[133.4,-0.19],[135.6,0.33],[137.1,-0.02],[139,-0.43],[141.5,0.03],[144.4,0.48],[146.6,0.03],[148.5,-0.6],[150.7,0.25],[152.9,0.99],[154.2,0.42],[155.8,-0.24],[159,-0.35],[162.3,0.17],[164.8,-0.19],[167.7,0.28],[171.4,0.06],[174.3,-0.13],[177.9,0.03],[180.9,-0.13],[183.1,0.17],[186,-0.16],[189.6,0.03],[193.3,0.17],[196.2,-0.02],[199.1,0.06],[202.8,-0.08],[206.4,0.06],[210.1,0.31],[213.7,-0.24],[216.6,0.03],[221.1,-0.08],[227.7,0.15],[231.3,-0.13],[235,0.03],[237.9,0.06],[242.3,-0.13],[245.2,0.03],[249.6,0.2],[252.5,-0.1],[256.1,0.14],[259.1,-0.1],[262,0.17],[264.2,-0.16],[267.1,0.03],[270.7,-0.01],[275.1,0.03],[278.8,-0.02],[286.8,-0.01],[298.5,0.06],[301.4,0],[320,-0.01],[356,-0.01]];

const ps11BheObs = [[-50,0],[47.3,-0.03],[61.9,-0.05],[68.5,-0.05],[72.1,0.02],[77.9,0.05],[83.8,0.17],[88.2,0.24],[94,0.21],[97.7,0.16],[101.3,0.08],[104.2,0.19],[107.9,0.26],[110.8,0.11],[113,0],[117.4,0.02],[119.6,0.27],[121.8,0.3],[123.2,0.21],[126.1,-0.11],[129.1,-0.17],[132,-0.11],[134.2,-0.22],[136.3,-0.25],[139.3,-0.33],[142.2,-0.42],[145.1,-0.52],[147.3,-0.28],[150.2,-0.31],[153.1,-0.09],[155.3,0.15],[157.5,0],[160.4,-0.17],[163.4,-0.47],[166.3,-0.61],[169.2,-0.63],[171.4,-0.72],[174.3,-0.77],[175.8,-0.55],[177.9,0.02],[180.1,0.08],[183.1,0.08],[186,0.1],[188.9,0.21],[191.8,0.38],[194.7,0.62],[197.7,0.54],[200.6,0.76],[202.8,0.54],[204.2,0.1],[206.4,0.27],[209.3,0.46],[211.5,0.16],[213.7,-0.09],[215.9,0.1],[216.7,0.19],[219.6,0.05],[221.8,0.02],[224.7,-0.17],[227.7,0],[229.9,-0.17],[232.5,-0.25],[235,-0.03],[237.9,-0.06],[240.8,-0.17],[243.7,-0.2],[246.6,-0.22],[248.8,-0.22],[251.5,0.08],[254,-0.17],[255.4,-0.17],[257.6,-0.01],[260.5,0.05],[263.4,-0.07],[266.4,0],[269.3,0.05],[272.2,0.1],[275.1,0],[278,0.16],[281,-0.17],[284.6,0.06],[286.8,-0.11],[288.9,0.19],[291.9,-0.14],[295.6,0.02],[299.2,0.16],[302.1,-0.14],[305.8,0.05],[310.2,0.08],[313.1,-0.11],[316.7,0.02],[319.6,-0.03],[322.6,0.06],[325.5,-0.11],[329.1,0.02],[333.5,0],[337.9,0],[341.5,0.11],[344.5,-0.09],[348.1,0.05],[351.8,0],[356.1,0],[359.8,0.05],[363.4,-0.03],[368.5,0.02],[374.4,-0.05],[378.8,0.02],[383.1,0],[387.5,0.08],[391.2,-0.07],[394.8,0.05],[398.5,-0.06],[400,0.03]];
const ps11BheSyn = [[-50,0],[61.9,-0.02],[76.5,-0.01],[86.7,-0.02],[94,-0.06],[98.4,-0.1],[103.5,-0.14],[107.2,-0.07],[110.8,0.05],[114.5,0.21],[117.4,0.1],[120.3,0.04],[124.7,0.06],[128.3,0],[130.5,0.05],[133.4,0.21],[135.6,-0.31],[139,0.24],[142.2,-0.11],[144.8,-0.47],[146.8,0],[148.5,0.33],[150.7,-0.11],[152.9,-0.69],[155.3,-0.11],[158.5,0.32],[161.9,0.1],[165.8,0.26],[169.2,-0.32],[172.1,0.05],[174.3,0.1],[178.4,0.26],[181.6,0],[184.5,-0.05],[188.9,0.05],[193.3,0.16],[196.9,-0.03],[200.6,-0.11],[205,0.1],[209.3,0],[212.9,-0.11],[215.2,0.08],[218.2,-0.11],[220.4,0.1],[226.9,0],[230.6,0.1],[234.2,-0.11],[239.3,0.16],[243.7,-0.03],[248.8,-0.17],[252,0.22],[255,-0.22],[257.9,0.19],[260.5,-0.03],[263.4,0.1],[266.4,-0.06],[270,0.06],[273.7,-0.03],[278,-0.02],[282.4,0],[300,-0.01],[356,0]];

const observed = [
    fidBhzObs, fidBhnObs, fidBheObs, scmBhzObs, scmBhnObs, scmBheObs,
    vmtBhzObs, vmtBhnObs, vmtBheObs, divBhzObs, divBhnObs, divBheObs,
    kluBhzObs, kluBhnObs, kluBheObs, m24kBhzObs, m24kBhnObs, m24kBheObs,
    ps12BhzObs, ps12BhnObs, ps12BheObs, ps11BhzObs, ps11BhnObs, ps11BheObs
];
const synthetic = [
    fidBhzSyn, fidBhnSyn, fidBheSyn, scmBhzSyn, scmBhnSyn, scmBheSyn,
    vmtBhzSyn, vmtBhnSyn, vmtBheSyn, divBhzSyn, divBhnSyn, divBheSyn,
    kluBhzSyn, kluBhnSyn, kluBheSyn, m24kBhzSyn, m24kBhnSyn, m24kBheSyn,
    ps12BhzSyn, ps12BhnSyn, ps12BheSyn, ps11BhzSyn, ps11BhnSyn, ps11BheSyn
];

const FONT = "'Liberation Sans', Arial, Helvetica, sans-serif";
const traceCount = stationLabels.length;

// each trace sits on its own baseline, top trace highest
function toPoints(trace, idx) {
    const base = traceCount - idx;
    return trace.map(p => ({ x: p[0], y: base + p[1] }));
}

function traceDataset(trace, idx, color, order) {
    return {
        data: toPoints(trace, idx),
        borderColor: color,
        borderWidth: 1.4,
        pointRadius: 0,
        fill: false,
        cubicInterpolationMode: 'monotone',
        order: order
    };
}

const datasets = [];
observed.forEach((tr, i) => datasets.push(traceDataset(tr, i, '#0000ff', 2)));
synthetic.forEach((tr, i) => datasets.push(traceDataset(tr, i, '#ff0000', 1)));

// origin time marker
datasets.push({
    data: [{ x: originTime, y: 0 }, { x: originTime, y: traceCount + 1 }],
    borderColor: '#ff0000',
    borderWidth: 4,
    pointRadius: 0,
    order: 0
});

// tick marks point into the plot
const inwardTicks = {
    id: 'inwardTicks',
    beforeDatasetsDraw(chart) {
        const { ctx, chartArea } = chart;
        const x = chart.scales.x;
        ctx.save();
        ctx.strokeStyle = '#000';
        ctx.lineWidth = 1;
        x.ticks.forEach(t => {
            const px = Math.round(x.getPixelForValue(t.value)) + 0.5;
            ctx.beginPath();
            ctx.moveTo(px, chartArea.bottom);
            ctx.lineTo(px, chartArea.bottom - 15);
            ctx.stroke();
        });
        ctx.restore();
    }
};

const ctx = document.getElementById('chart-canvas').getContext('2d');

new Chart(ctx, {
    type: 'line',
    data: { datasets: datasets },
    plugins: [inwardTicks],
    options: {
        responsive: false,
        animation: false,
        devicePixelRatio: 1,
        layout: { padding: { top: 5, right: 32, bottom: 0, left: 0 } },
        plugins: {
            legend: { display: false },
            tooltip: { enabled: false }
        },
        scales: {
            x: {
                type: 'linear',
                min: timeTicks[0],
                max: timeTicks[timeTicks.length - 1],
                afterBuildTicks: s => { s.ticks = timeTicks.map(v => ({ value: v })); },
                afterFit: s => { s.height = 60; },
                grid: { display: false },
                border: { display: true, color: '#000', width: 1 },
                ticks: {
                    color: '#000',
                    padding: 0,
                    maxRotation: 0,
                    autoSkip: false,
                    font: { family: FONT, size: 19 },
                    callback: v => (v < 0 ? '\u2212' + Math.abs(v) : String(v))
                },
                title: {
                    display: true,
                    text: 'Time (s)',
                    color: '#000',
                    font: { family: FONT, size: 19, weight: 'bold' },
                    padding: { top: 0, bottom: 3 }
                }
            },
            y: {
                type: 'linear',
                min: 0,
                max: traceCount + 1,
                afterBuildTicks: s => { s.ticks = stationLabels.map((_, i) => ({ value: traceCount - i })); },
                afterFit: s => {
                    s.width = 268;
                    s.paddingTop = 0;
                    s.paddingBottom = 0;
                },
                grid: { display: false },
                border: { display: true, color: '#000', width: 1 },
                ticks: {
                    color: '#000',
                    padding: 3,
                    labelOffset: 3,
                    autoSkip: false,
                    font: { family: FONT, size: 19.7 },
                    callback: v => stationLabels[traceCount - v]
                }
            }
        }
    }
});
</script>
</body>
</html>
